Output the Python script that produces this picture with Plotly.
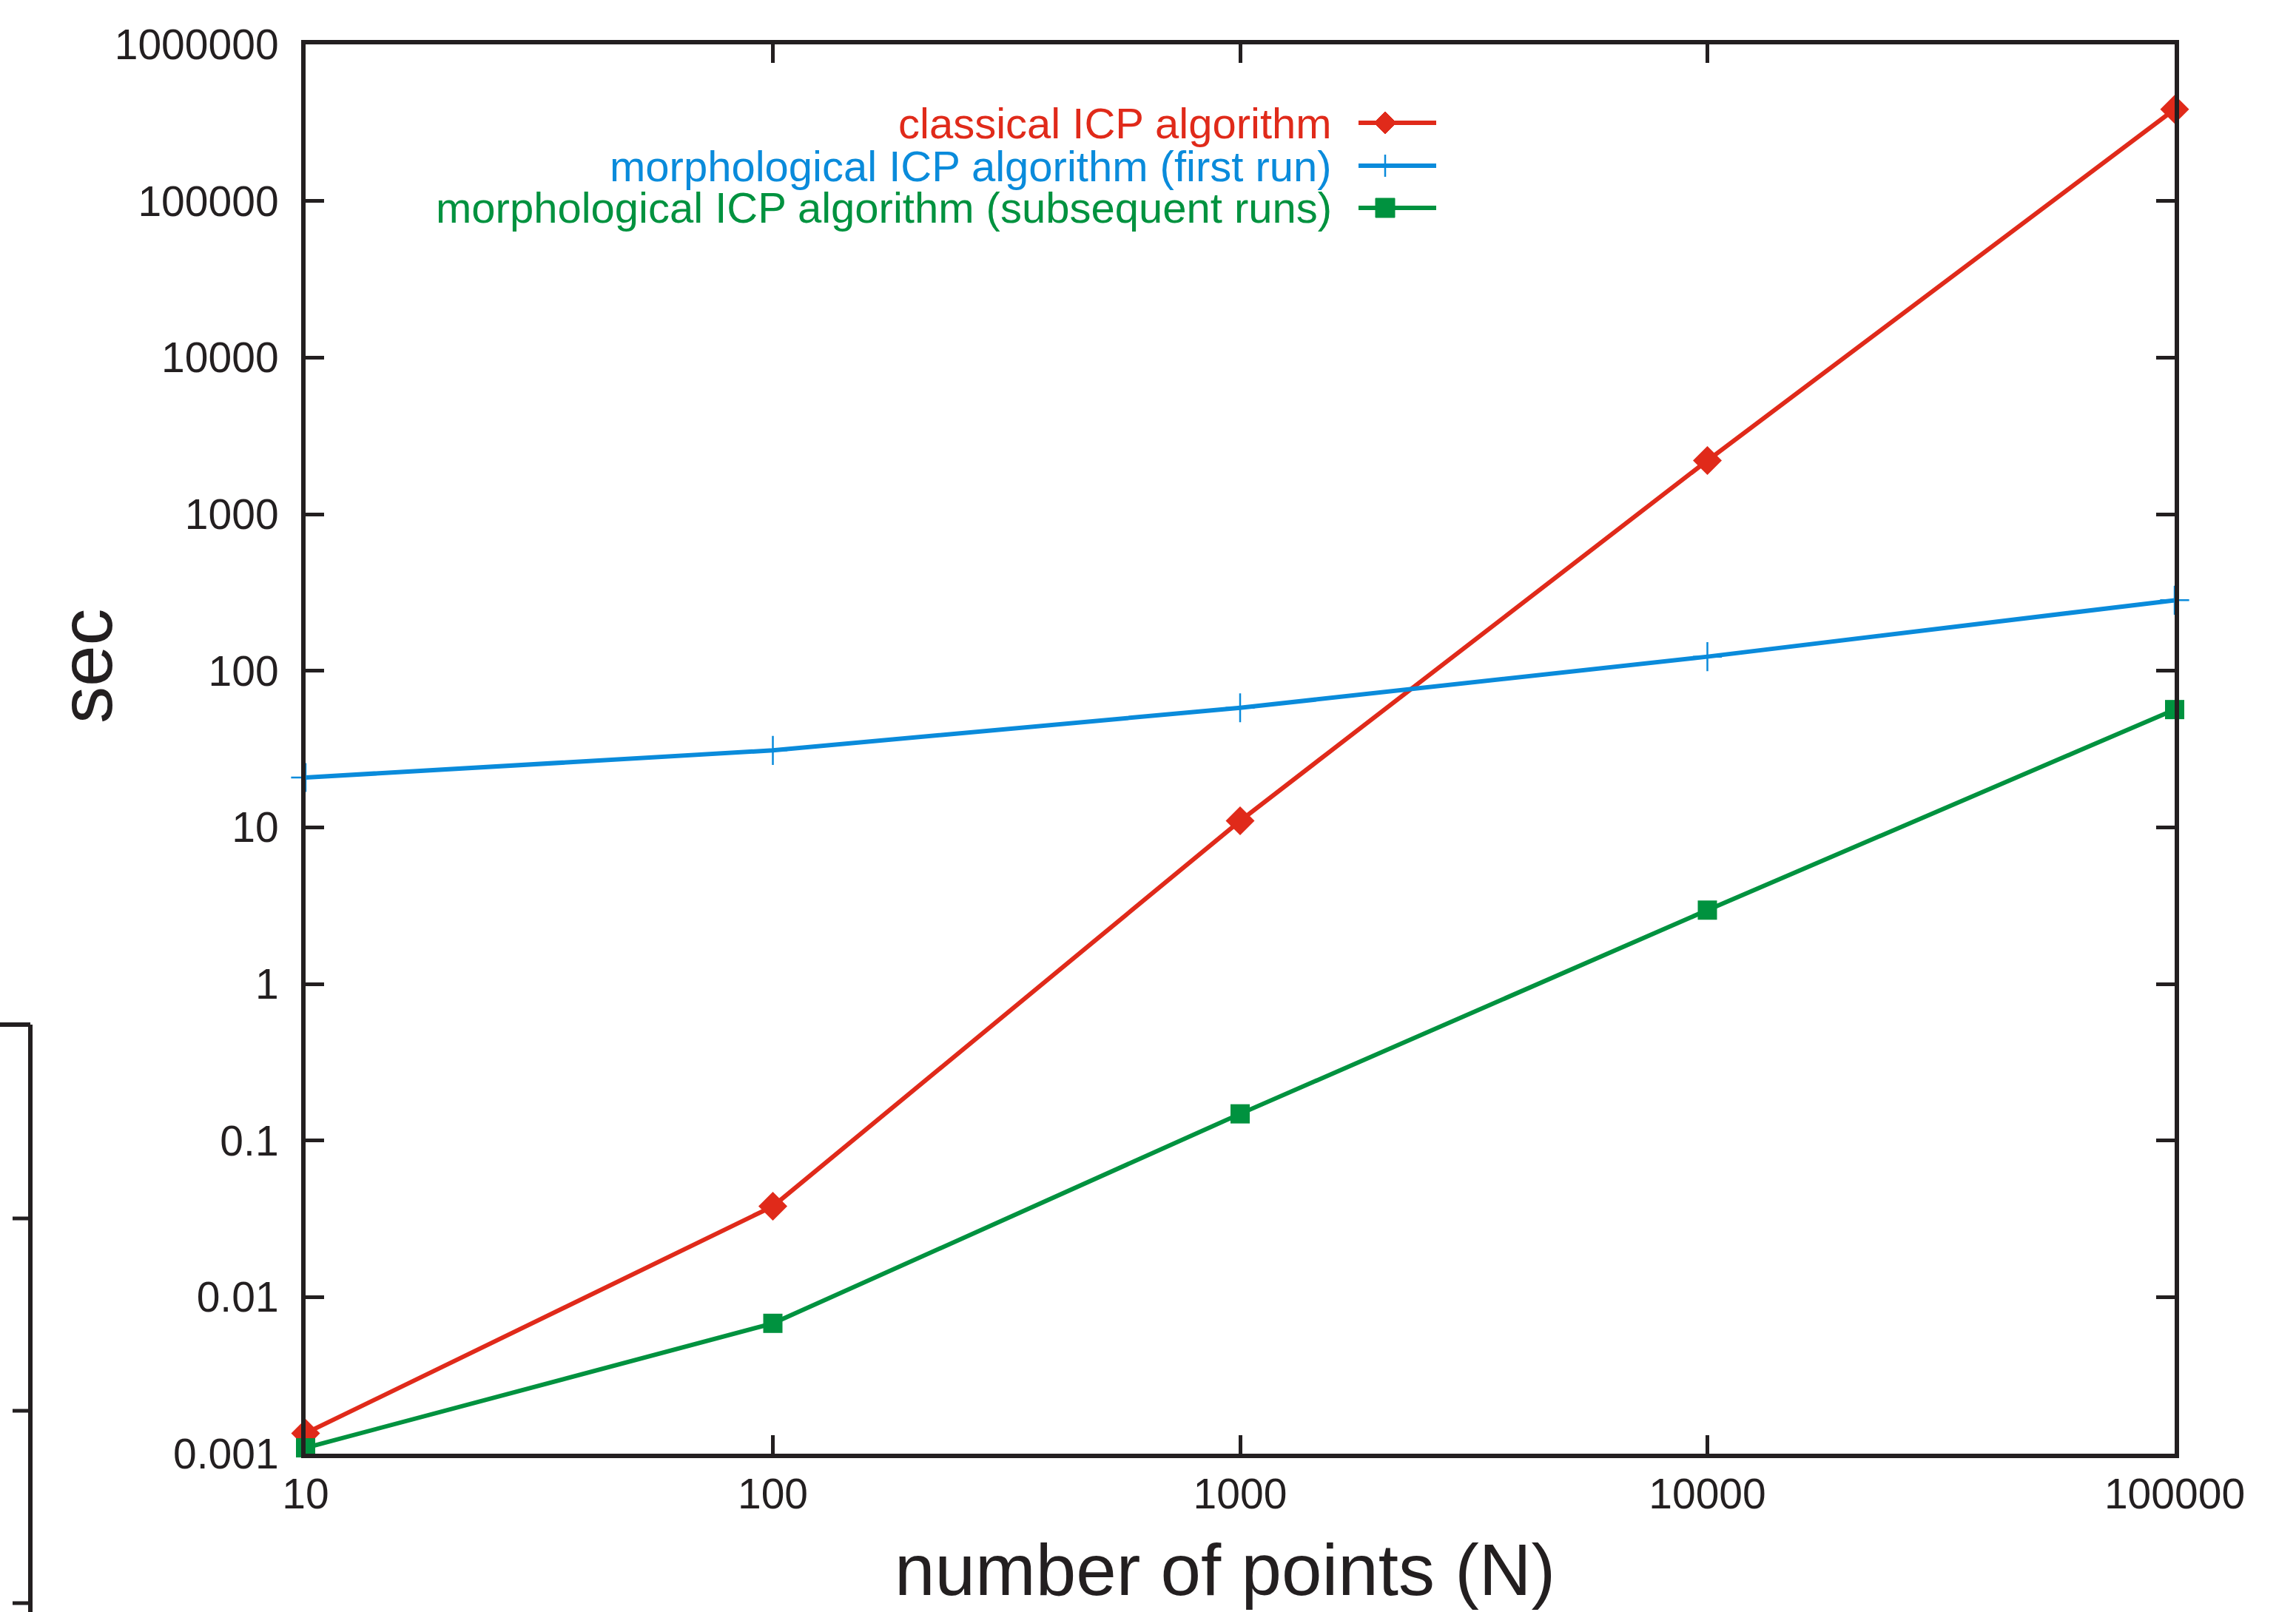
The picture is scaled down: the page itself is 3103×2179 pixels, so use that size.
import plotly.graph_objects as go

# ---- data ----
n_points = [10, 100, 1000, 10000, 100000]
classical_icp = [0.00135, 0.038, 11, 2200, 385000]
morph_first_run = [20.8, 31, 58, 123, 282]
morph_subsequent = [0.00109, 0.0068, 0.148, 2.96, 56.5]

series_names = [
    "classical ICP algorithm",
    "morphological ICP algorithm (first run)",
    "morphological ICP algorithm (subsequent runs)",
]
x_tick_vals = [10, 100, 1000, 10000, 100000]
x_tick_text = ["10", "100", "1000", "10000", "100000"]
y_tick_vals = [0.001, 0.01, 0.1, 1, 10, 100, 1000, 10000, 100000, 1000000]
y_tick_text = ["0.001", "0.01", "0.1", "1", "10", "100", "1000", "10000", "100000", "1000000"]

RED = "#E02A1A"
BLUE = "#0A8BDB"
GREEN = "#00923F"
BLACK = "#231F20"
FONT = "Liberation Sans, Arial, sans-serif"

W, H = 3103, 2179
L, R, T, B = 413, 2939, 60, 1965  # plot area in pixels


def px(xp):
    return (xp - L) / (R - L)


def py(yp):
    return (B - yp) / (B - T)


fig = go.Figure()
fig.add_trace(go.Scatter(
    x=n_points, y=classical_icp, mode="lines+markers", name=series_names[0],
    line=dict(color=RED, width=6),
    marker=dict(symbol="diamond", size=30, color=RED),
    showlegend=False, cliponaxis=False))
fig.add_trace(go.Scatter(
    x=n_points, y=morph_first_run, mode="lines+markers", name=series_names[1],
    line=dict(color=BLUE, width=6),
    marker=dict(symbol="cross-thin", size=28, color=BLUE, line=dict(color=BLUE, width=2.5)),
    showlegend=False, cliponaxis=False))
fig.add_trace(go.Scatter(
    x=n_points, y=morph_subsequent, mode="lines+markers", name=series_names[2],
    line=dict(color=GREEN, width=6),
    marker=dict(symbol="square", size=26, color=GREEN),
    showlegend=False, cliponaxis=False))

shapes = []
annotations = []

# ---- legend (right-aligned coloured text with samples on the right) ----
legend_rows = [166, 224, 281]
legend_colors = [RED, BLUE, GREEN]
for name, yrow, col, kind in zip(series_names, legend_rows, legend_colors, ["diamond", "cross", "square"]):
    annotations.append(dict(
        x=px(1801), y=py(yrow), xref="paper", yref="paper", xanchor="right", yanchor="middle",
        text=name, showarrow=False, borderpad=0,
        font=dict(family=FONT, size=58, color=col)))
    shapes.append(dict(type="line", xref="paper", yref="paper",
                       x0=px(1836), x1=px(1941), y0=py(yrow), y1=py(yrow),
                       line=dict(color=col, width=6)))
    cx, cy = 1872, yrow
    if kind == "diamond":
        s = 15
        path = "M {} {} L {} {} L {} {} L {} {} Z".format(
            px(cx - s), py(cy), px(cx), py(cy - s), px(cx + s), py(cy), px(cx), py(cy + s))
        shapes.append(dict(type="path", xref="paper", yref="paper", path=path,
                           fillcolor=col, line=dict(color=col, width=1)))
    elif kind == "square":
        s = 13
        shapes.append(dict(type="rect", xref="paper", yref="paper",
                           x0=px(cx - s), x1=px(cx + s), y0=py(cy + s), y1=py(cy - s),
                           fillcolor=col, line=dict(color=col, width=1)))
    else:
        s = 15
        shapes.append(dict(type="line", xref="paper", yref="paper",
                           x0=px(cx), x1=px(cx), y0=py(cy - s), y1=py(cy + s),
                           line=dict(color=col, width=2.5)))

# ---- fragment of a neighbouring figure at the lower-left edge ----
frag_x = 41
shapes.append(dict(type="line", xref="paper", yref="paper",
                   x0=px(frag_x), x1=px(frag_x), y0=py(1385), y1=py(2179),
                   line=dict(color=BLACK, width=6)))
shapes.append(dict(type="line", xref="paper", yref="paper",
                   x0=px(0), x1=px(frag_x), y0=py(1385), y1=py(1385),
                   line=dict(color=BLACK, width=6)))
for ty in [1647, 1907, 2167]:
    shapes.append(dict(type="line", xref="paper", yref="paper",
                       x0=px(17), x1=px(frag_x), y0=py(ty), y1=py(ty),
                       line=dict(color=BLACK, width=5)))

# ---- axis titles ----
annotations.append(dict(x=px(1655), y=py(2122), xref="paper", yref="paper",
                        text="number of points (N)", showarrow=False,
                        xanchor="center", yanchor="middle", borderpad=0,
                        font=dict(family=FONT, size=98, color=BLACK)))
annotations.append(dict(x=px(116), y=py(900), xref="paper", yref="paper",
                        text="sec", showarrow=False, textangle=-90,
                        xanchor="center", yanchor="middle", borderpad=0,
                        font=dict(family=FONT, size=100, color=BLACK)))

axis_common = dict(
    showline=True, linecolor=BLACK, linewidth=6, mirror="ticks",
    ticks="inside", ticklen=25, tickwidth=5, tickcolor=BLACK,
    showgrid=False, zeroline=False,
    tickfont=dict(family=FONT, size=57, color=BLACK),
)

fig.update_layout(
    width=W, height=H,
    margin=dict(l=L, r=W - R, t=T, b=H - B, pad=0),
    paper_bgcolor="white", plot_bgcolor="white",
    xaxis=dict(type="log", range=[1, 5], tickvals=x_tick_vals, ticktext=x_tick_text,
               ticklabelstandoff=0, **axis_common),
    yaxis=dict(type="log", range=[-3, 6], tickvals=y_tick_vals, ticktext=y_tick_text,
               ticklabelstandoff=19, **axis_common),
    shapes=shapes, annotations=annotations,
    showlegend=False,
)

fig.write_html(
    "out.html",
    config={"displayModeBar": False},
    post_script="document.body.style.margin='0';document.body.style.overflow='hidden';",
)
